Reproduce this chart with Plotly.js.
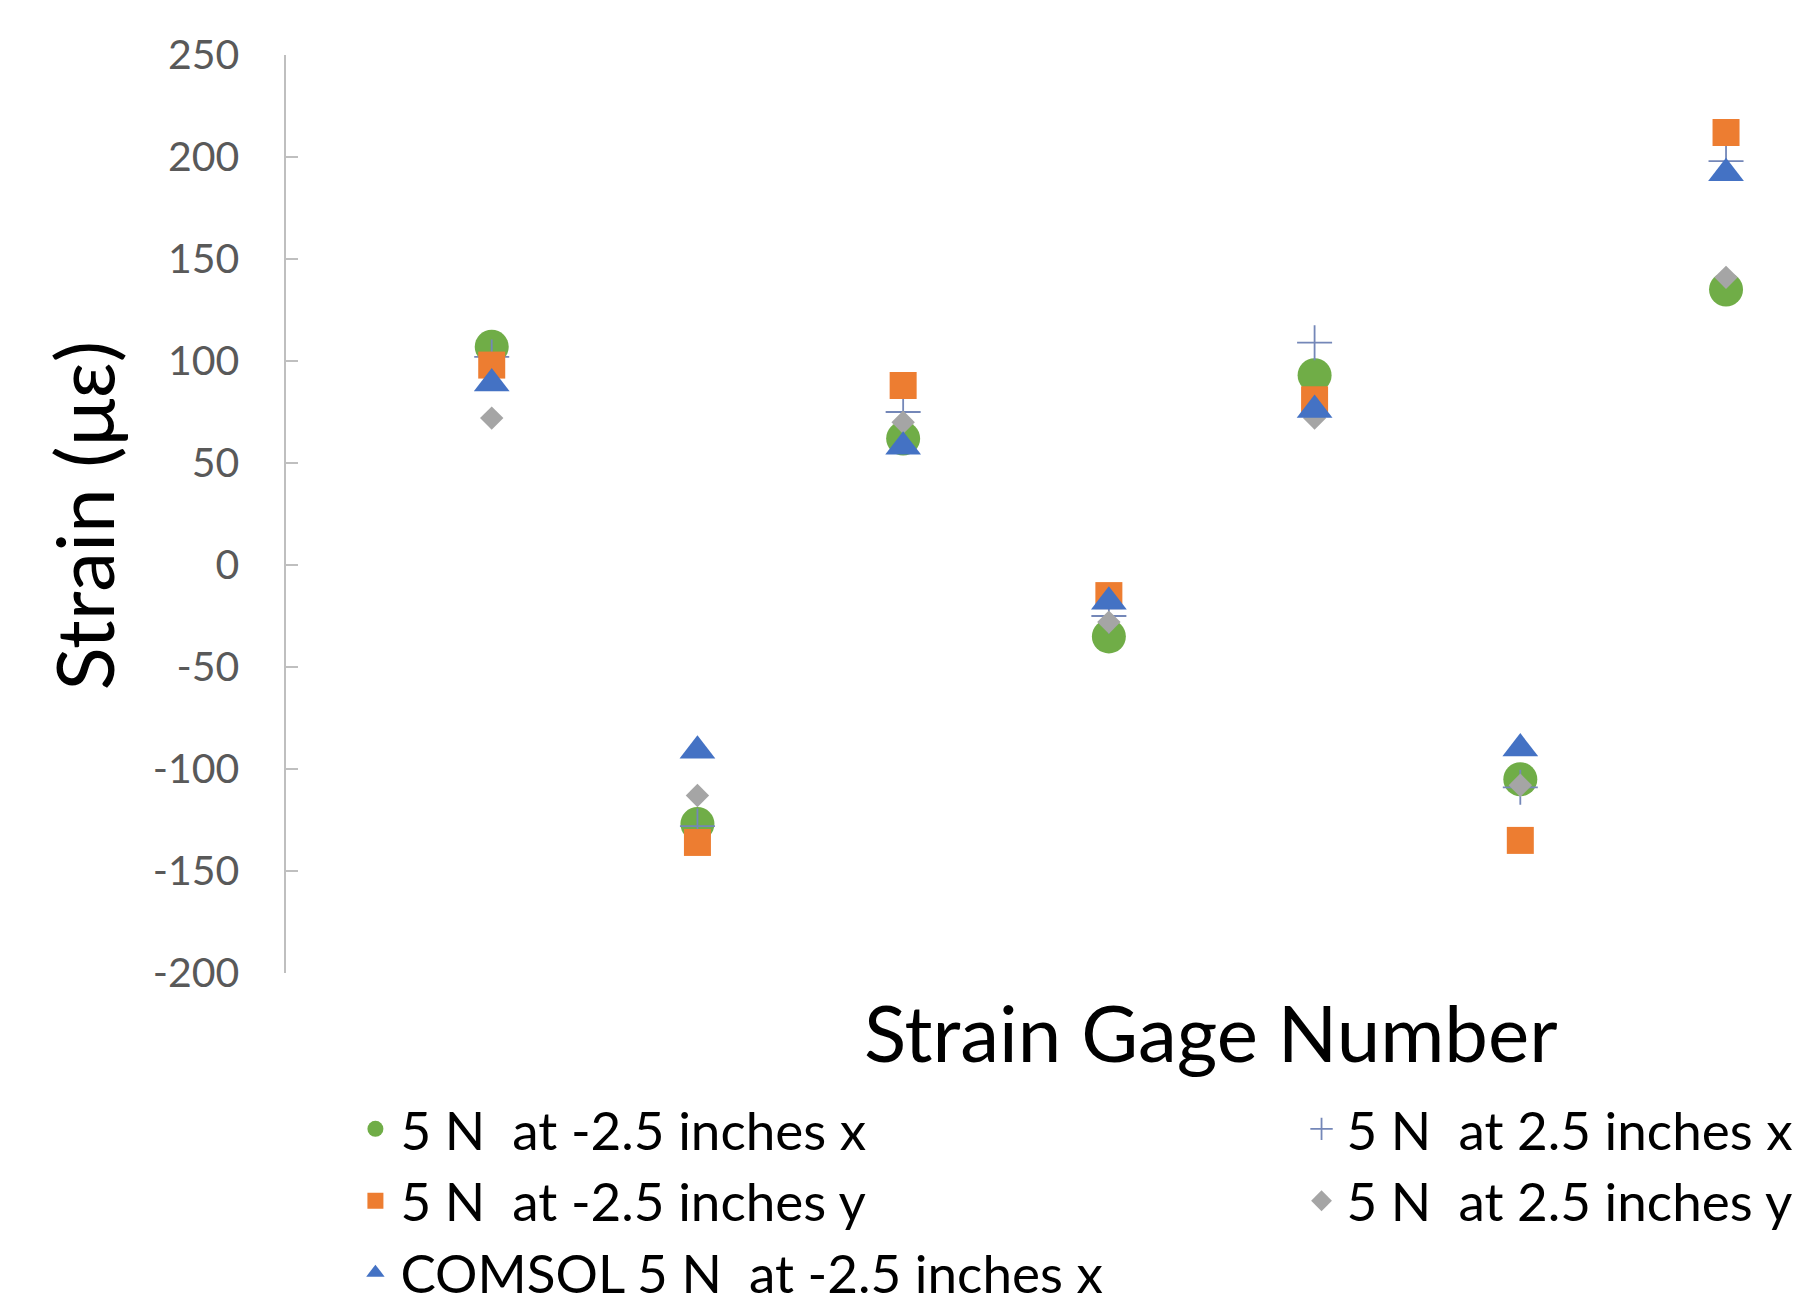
<!DOCTYPE html>
<html>
<head>
<meta charset="utf-8">
<script src="https://cdn.plot.ly/plotly-3.0.1.min.js"></script>
<style>
  html, body { margin: 0; padding: 0; background: #ffffff; }
  #chart { width: 1797px; height: 1306px; }
</style>
</head>
<body>
<div id="chart"></div>
<script>
// Strain gage numbers (category positions)
var gages = [1, 2, 3, 4, 5, 6, 7];

// Series values (micro-strain)
var negXStrain   = [107, -127, 62, -35, 93, -105, 135];   // 5 N at -2.5 inches x
var posXStrain   = [102, -128, 75, -25, 109, -109, 198];  // 5 N at 2.5 inches x
var negYStrain   = [98, -136, 88, -15, 81, -135, 212];    // 5 N at -2.5 inches y
var posYStrain   = [72, -113, 70, -28, 72, -108, 141];    // 5 N at 2.5 inches y
var comsolXStrain = [89, -91, 58, -18, 76, -90, 192];     // COMSOL 5 N at -2.5 inches x

// Legend labels
var seriesNames = [
  "5 N\u00a0 at -2.5 inches x",
  "5 N\u00a0 at 2.5 inches x",
  "5 N\u00a0 at -2.5 inches y",
  "5 N\u00a0 at 2.5 inches y",
  "COMSOL 5 N\u00a0 at -2.5 inches x"
];

// Axis tick values
var yTicks = [-200, -150, -100, -50, 0, 50, 100, 150, 200, 250];

var FONT = "Lato, 'Open Sans', 'DejaVu Sans', sans-serif";

var traces = [
  {
    x: gages, y: negXStrain, name: seriesNames[0], type: "scatter", mode: "markers",
    legend: "legend",
    marker: { symbol: "circle", size: 34, color: "#70AD47", line: { width: 0 } }
  },
  {
    x: gages, y: posXStrain, name: seriesNames[1], type: "scatter", mode: "markers",
    legend: "legend2",
    marker: { symbol: "cross-thin", size: 25, color: "#7487B8", line: { width: 1.8, color: "#7487B8" } }
  },
  {
    x: gages, y: negYStrain, name: seriesNames[2], type: "scatter", mode: "markers",
    legend: "legend",
    marker: { symbol: "square", size: 27, color: "#ED7D31", line: { width: 0 } }
  },
  {
    x: gages, y: posYStrain, name: seriesNames[3], type: "scatter", mode: "markers",
    legend: "legend2",
    marker: { symbol: "diamond", size: 18, color: "#A5A5A5", line: { width: 0 } }
  },
  {
    x: gages, y: comsolXStrain, name: seriesNames[4], type: "scatter", mode: "markers",
    legend: "legend",
    marker: { symbol: "triangle-up", size: 31, color: "#4472C4", line: { width: 0 } }
  }
];

var layout = {
  width: 1797,
  height: 1306,
  paper_bgcolor: "#ffffff",
  plot_bgcolor: "#ffffff",
  margin: { l: 286, r: 0, t: 55, b: 333, autoexpand: false },
  font: { family: FONT, color: "#000000" },
  showlegend: true,
  xaxis: {
    range: [0, 7.345],
    showgrid: false,
    zeroline: false,
    showline: false,
    showticklabels: false,
    ticks: "",
    automargin: false,
    fixedrange: true
  },
  yaxis: {
    range: [-200, 250],
    tickvals: yTicks,
    ticktext: yTicks.map(function (v) { return String(v); }),
    showgrid: false,
    zeroline: false,
    showline: true,
    linecolor: "#BFBFBF",
    linewidth: 2.5,
    ticks: "inside",
    ticklen: 12,
    tickwidth: 2,
    tickcolor: "#BFBFBF",
    ticklabelstandoff: 36,
    tickfont: { family: FONT, size: 41, color: "#595959" },
    automargin: false,
    fixedrange: true
  },
  annotations: [
    {
      text: "Strain Gage Number",
      xref: "paper", yref: "paper",
      x: 0.612, y: -0.064,
      xanchor: "center", yanchor: "middle",
      showarrow: false,
      font: { family: FONT, size: 78, color: "#000000" }
    },
    {
      text: "Strain (\u03bc\u03b5)",
      xref: "paper", yref: "paper",
      x: -0.1345, y: 0.498,
      xanchor: "center", yanchor: "middle",
      textangle: -90,
      showarrow: false,
      font: { family: FONT, size: 80, color: "#000000" }
    }
  ],
  legend: {
    xref: "container", yref: "container",
    x: 0.195, y: 0.167,
    xanchor: "left", yanchor: "top",
    orientation: "v",
    itemwidth: 40,
    bgcolor: "rgba(0,0,0,0)",
    borderwidth: 0,
    traceorder: "normal",
    font: { family: FONT, size: 53, color: "#000000" }
  },
  legend2: {
    xref: "container", yref: "container",
    x: 0.7215, y: 0.167,
    xanchor: "left", yanchor: "top",
    orientation: "v",
    itemwidth: 40,
    bgcolor: "rgba(0,0,0,0)",
    borderwidth: 0,
    traceorder: "normal",
    font: { family: FONT, size: 53, color: "#000000" }
  }
};

Plotly.newPlot("chart", traces, layout, { displayModeBar: false, staticPlot: true });
</script>
</body>
</html>
